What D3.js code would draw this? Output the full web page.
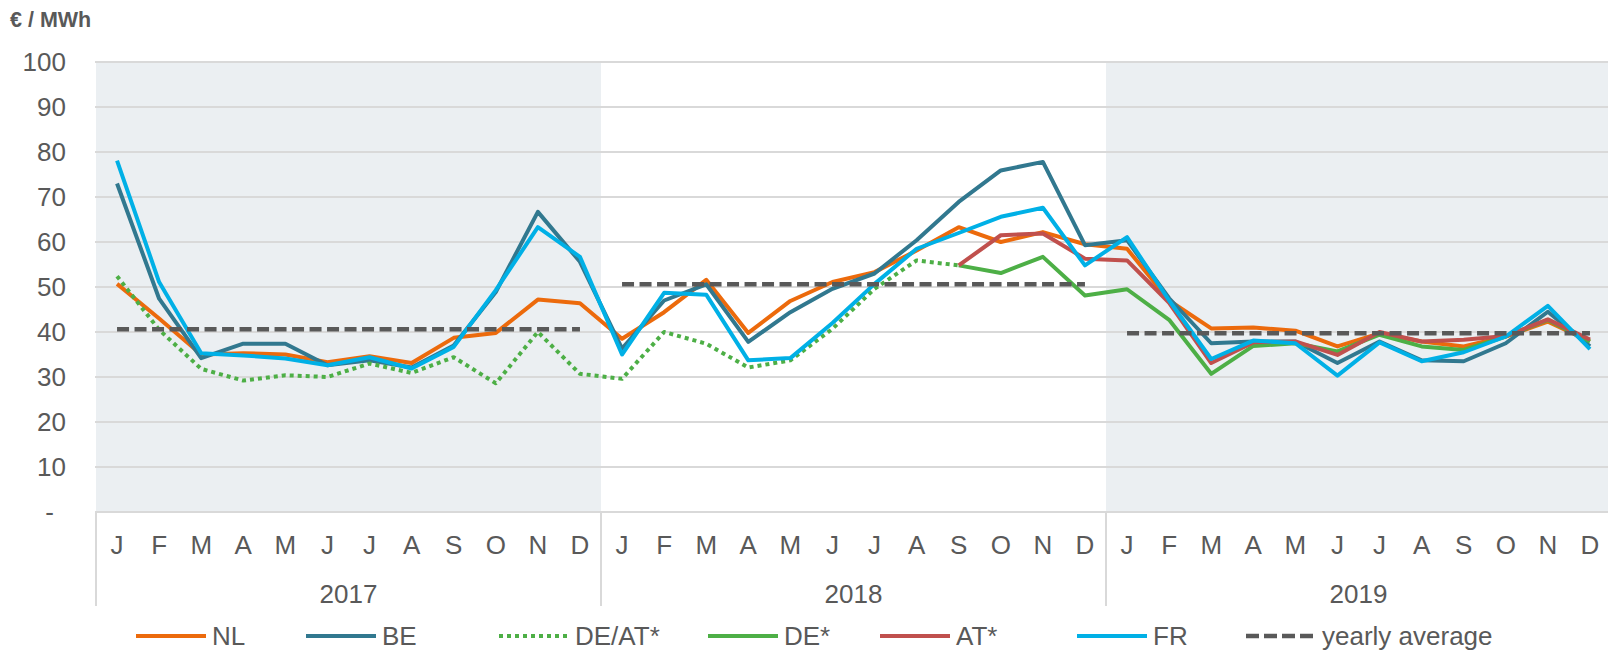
<!DOCTYPE html>
<html><head><meta charset="utf-8">
<script src="https://cdn.jsdelivr.net/npm/d3@7"></script>
<style>
body{margin:0;background:#fff;}
text{font-family:"Liberation Sans",Arial,sans-serif;fill:#595959;}
</style></head>
<body>
<script>
const monthLabels = ["J","F","M","A","M","J","J","A","S","O","N","D"];
const years = ["2017","2018","2019"];
const yTicks = [0,10,20,30,40,50,60,70,80,90,100];

const NL = [50.7,43,35,35.3,35,33.3,34.6,33.1,38.7,39.8,47.2,46.4,
            38.5,44.4,51.6,39.8,46.9,51.1,53.3,58.1,63.3,60,62.2,59.5,
            58.5,47,40.8,41,40.3,36.8,39.7,37.9,36.8,39,42.3,37.9];
const BE = [73,47.4,34.2,37.4,37.4,32.6,33.7,32.1,37,48.9,66.7,55.6,
            36.3,47,50.6,37.8,44.4,49.6,53,60.4,68.9,75.9,77.8,59.3,
            60.4,47.5,37.5,37.9,37.9,33.1,37.9,33.7,33.5,37.5,44.5,36.8];
const DEAT = [52.4,40.5,31.8,29.2,30.4,30,33,30.9,34.4,28.6,40,30.7,
              29.6,40,37.4,32.1,33.7,40.7,49.6,55.9,54.8,null,null,null,
              null,null,null,null,null,null,null,null,null,null,null,null];
const DE = [null,null,null,null,null,null,null,null,null,null,null,null,
            null,null,null,null,null,null,null,null,54.8,53.1,56.7,48.1,
            49.5,42.7,30.7,36.9,37.5,35.7,39.4,36.8,36,39,42.7,37.9];
const AT = [null,null,null,null,null,null,null,null,null,null,null,null,
            null,null,null,null,null,null,null,null,54.8,61.5,61.9,56.3,
            55.9,46.5,33.1,37.7,37.9,34.9,40,37.9,38.3,39.1,42.8,38.3];
const FR = [78.1,51.1,35.3,34.8,34.1,32.6,34.4,31.9,36.7,49.3,63.3,56.7,
            35,48.7,48.3,33.7,34.2,42,50.7,58.5,62,65.6,67.6,54.8,
            61.1,47,34,38.1,37.5,30.3,37.7,33.5,35.5,39,45.8,36.2];
const yearlyAverage = [40.6,50.6,39.7];

const seriesNames = ["NL","BE","DE/AT*","DE*","AT*","FR"];
const seriesValues = [NL,BE,DEAT,DE,AT,FR];
const seriesColors = ["#EC6A0C","#31788F","#4DAF46","#4DAF46","#C0504D","#00B0E6"];
const seriesDash = [null,null,"4,4",null,null,null];
const legendLabels = ["NL","BE","DE/AT*","DE*","AT*","FR","yearly average"];
const legendX = [136,306,499,708,880,1077,1246];

const W = 1608, H = 651;
const pLeft = 96, pRight = 1611, pTop = 62, pBottom = 512;
const FS = 26;

const keys = [];
years.forEach((y,yi)=>monthLabels.forEach((m,mi)=>keys.push(y+"-"+mi)));

const x = d3.scaleBand().domain(keys).range([pLeft,pRight]).padding(0);
const yS = d3.scaleLinear().domain([0,100]).range([pBottom,pTop]);
const cx = i => x(keys[i]) + x.bandwidth()/2;

const svg = d3.select("body").append("svg").attr("width",W).attr("height",H);

// shaded years
years.forEach((y,yi)=>{
  if (yi===1) return;
  const x0 = x(keys[yi*12]), x1 = x(keys[yi*12+11]) + x.bandwidth();
  svg.append("rect").attr("x",x0).attr("y",pTop).attr("width",x1-x0).attr("height",pBottom-pTop).attr("fill","#EBEFF2");
});

// grid
svg.append("g").selectAll("line").data(yTicks).join("line")
  .attr("x1",pLeft-1).attr("x2",pRight).attr("y1",d=>yS(d)).attr("y2",d=>yS(d))
  .attr("stroke","#D9D9D9").attr("stroke-width",2);

// y axis labels
const yAxis = d3.axisLeft(yS).tickValues(yTicks).tickSize(0).tickPadding(0)
  .tickFormat(d=> d===0 ? "-" : d);
const gy = svg.append("g").attr("transform","translate(66,0)").call(yAxis);
gy.select(".domain").remove();
gy.selectAll("text").attr("font-size",FS).attr("fill","#595959")
  .style("font-family","'Liberation Sans',Arial,sans-serif");
gy.selectAll(".tick").filter(d=>d===0).select("text").attr("dx",-12);

// x axis month labels
const xAxis = d3.axisBottom(x).tickSize(0).tickPadding(0).tickFormat(k=>monthLabels[+k.split("-")[1]]);
const gx = svg.append("g").attr("transform",`translate(0,${pBottom})`).call(xAxis);
gx.select(".domain").remove();
gx.selectAll("text").attr("font-size",FS).attr("fill","#595959").attr("dy",null).attr("y",42)
  .style("font-family","'Liberation Sans',Arial,sans-serif");

// year separators
for (let yi=0; yi<=3; yi++){
  const xx = yi<3 ? x(keys[yi*12]) : pRight;
  svg.append("line").attr("x1",xx).attr("x2",xx).attr("y1",pBottom).attr("y2",606)
    .attr("stroke","#D9D9D9").attr("stroke-width",2);
}
// year labels
svg.append("g").selectAll("text").data(years).join("text")
  .attr("x",(d,i)=> (x(keys[i*12]) + x(keys[i*12+11]) + x.bandwidth())/2)
  .attr("y",603).attr("text-anchor","middle").attr("font-size",FS).text(d=>d);

// lines
const line = d3.line().defined(d=>d.v!==null).x(d=>cx(d.i)).y(d=>yS(d.v));
seriesValues.forEach((vals,si)=>{
  const p = svg.append("path").datum(vals.map((v,i)=>({i,v})))
    .attr("d",line).attr("fill","none").attr("stroke",seriesColors[si])
    .attr("stroke-width",4).attr("stroke-linejoin","round");
  if (seriesDash[si]) p.attr("stroke-dasharray",seriesDash[si]);
});

// yearly averages
yearlyAverage.forEach((v,yi)=>{
  svg.append("line").attr("x1",cx(yi*12)).attr("x2",cx(yi*12+11))
    .attr("y1",yS(v)).attr("y2",yS(v)).attr("stroke","#595959")
    .attr("stroke-width",4.5).attr("stroke-dasharray","12,5.5");
});

// title
svg.append("text").attr("x",10).attr("y",27).attr("font-size",21.5).attr("font-weight","bold").text("€ / MWh");

// legend
const ly = 636;
legendLabels.forEach((lab,i)=>{
  const g = svg.append("g");
  const x0 = legendX[i];
  const ln = g.append("line").attr("x1",x0).attr("x2",x0+70).attr("y1",ly).attr("y2",ly)
    .attr("stroke-width", i===6 ? 4.5 : 4);
  if (i<6){
    ln.attr("stroke",seriesColors[i]);
    if (seriesDash[i]) ln.attr("stroke-dasharray",seriesDash[i]);
  } else {
    ln.attr("stroke","#595959").attr("stroke-dasharray","13,5");
  }
  g.append("text").attr("x",x0+76).attr("y",ly+8.5).attr("font-size",26).text(lab);
});
</script>
</body></html>
